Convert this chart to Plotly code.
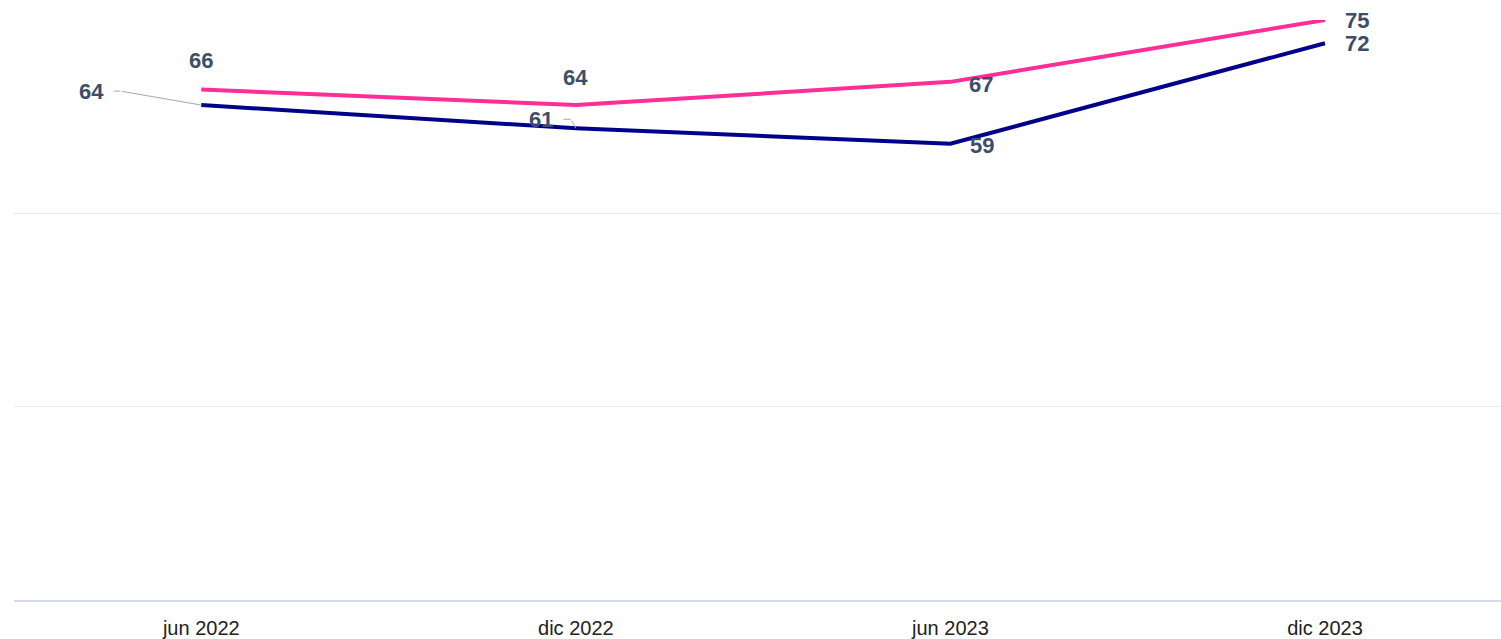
import plotly.graph_objects as go

categories = ["jun 2022", "dic 2022", "jun 2023", "dic 2023"]
pink_values = [66, 64, 67, 75]
blue_values = [64, 61, 59, 72]

PINK = "#ff2e97"
BLUE = "#00008b"
LABEL = "#3d4e68"
LEADER = "#9aabc4"

fig = go.Figure()
fig.add_trace(go.Scatter(x=categories, y=pink_values, mode="lines",
                         line=dict(color=PINK, width=4), hoverinfo="skip"))
fig.add_trace(go.Scatter(x=categories, y=blue_values, mode="lines",
                         line=dict(color=BLUE, width=4), hoverinfo="skip"))

font = dict(family="Liberation Sans, Arial, sans-serif", size=22, color=LABEL)

# (series values, index, xshift, yshift)
labels = [
    (pink_values, 0, 0, 29),
    (pink_values, 1, 0, 28),
    (pink_values, 2, 31, -3),
    (pink_values, 3, 32, 0),
    (blue_values, 0, -110, 14),
    (blue_values, 1, -35, 9),
    (blue_values, 2, 32, -2),
    (blue_values, 3, 32, 0),
]
for vals, i, xs, ys in labels:
    fig.add_annotation(x=categories[i], y=vals[i], text=f"<b>{vals[i]}</b>",
                       showarrow=False, xshift=xs, yshift=ys, font=font)

# leader lines (elbow): diagonal from the point, then a short horizontal stub
leaders = [
    (blue_values, 0, -81, -14, -8),
    (blue_values, 1, -5, -9, -9),
]
for vals, i, dx, dy, stub in leaders:
    fig.add_annotation(x=categories[i], y=vals[i], text="", showarrow=True,
                       ax=dx, ay=dy, axref="pixel", ayref="pixel",
                       arrowhead=0, arrowwidth=1, arrowcolor=LEADER, standoff=0)
    fig.add_annotation(x=categories[i], y=vals[i], text="", showarrow=True,
                       xshift=dx, yshift=-dy, ax=stub, ay=0,
                       axref="pixel", ayref="pixel",
                       arrowhead=0, arrowwidth=1, arrowcolor=LEADER, standoff=0)

fig.update_layout(
    width=1501, height=639,
    margin=dict(l=14, r=0, t=20, b=37),
    paper_bgcolor="white", plot_bgcolor="white",
    showlegend=False, hovermode=False,
    xaxis=dict(type="category", range=[-0.5, 3.47], showgrid=False,
               showline=True, linecolor="#d5dde8", linewidth=1.5,
               ticks="", ticklabelstandoff=9,
               tickfont=dict(family="Liberation Sans, Arial, sans-serif", size=20, color="#222222")),
    yaxis=dict(range=[0, 75], tickvals=[0, 25, 50, 75], showticklabels=False,
               showgrid=True, gridcolor="#ebebeb", gridwidth=1, zeroline=False,
               fixedrange=True),
)

fig.write_html("out.html", config={"displayModeBar": False},
               post_script="document.body.style.margin='0';document.body.style.overflow='hidden';")
